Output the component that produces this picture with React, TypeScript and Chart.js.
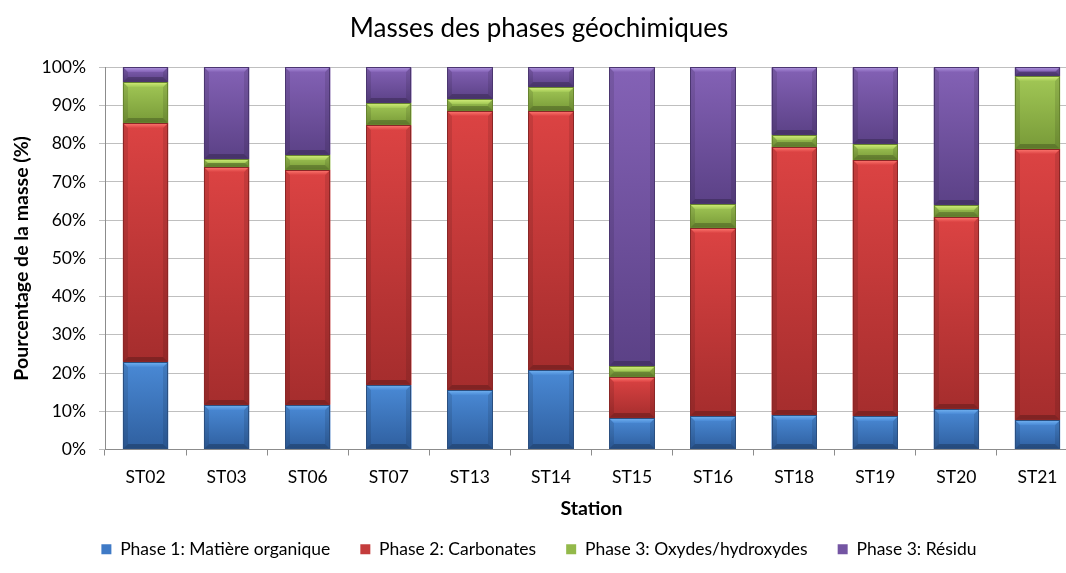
import React, { useEffect, useRef } from 'react';
import { Chart, registerables } from 'chart.js';

Chart.register(...registerables);

const categories = ['ST02', 'ST03', 'ST06', 'ST07', 'ST13', 'ST14', 'ST15', 'ST16', 'ST18', 'ST19', 'ST20', 'ST21'];
const phase1Organique = [23.0, 11.7, 11.7, 16.8, 15.5, 20.7, 8.2, 8.7, 9.1, 8.7, 10.7, 7.8];
const phase2Carbonates = [62.5, 62.2, 61.5, 68.0, 73.0, 67.8, 10.8, 49.2, 70.1, 67.0, 50.1, 70.9];
const phase3Oxydes = [10.5, 2.1, 3.9, 5.9, 3.3, 6.3, 2.9, 6.4, 3.1, 4.2, 3.2, 19.0];
const phase3Residu = [4.0, 24.0, 22.9, 9.3, 8.2, 5.2, 78.1, 35.7, 17.7, 20.1, 36.0, 2.3];
const seriesNames = ['Phase 1: Matière organique', 'Phase 2: Carbonates', 'Phase 3: Oxydes/hydroxydes', 'Phase 3: Résidu'];

const palettes = [
  { mid: '#3f7ac6', light: '#74b4f2', top: '#4a8ad6', bottom: '#2f5f9f', border: '#2b4f80' },
  { mid: '#c43c3c', light: '#ff7a72', top: '#dc4343', bottom: '#a52d2d', border: '#8a2626' },
  { mid: '#93b94a', light: '#d5f07a', top: '#a2c856', bottom: '#789a38', border: '#66832e' },
  { mid: '#7455a3', light: '#b39ae2', top: '#8462b6', bottom: '#5b4186', border: '#4b3670' },
];

const FONT = 'Lato, "Open Sans", sans-serif';

const bevelPlugin = {
  id: 'bevel',
  afterDatasetsDraw(chart: any) {
    const ctx = chart.ctx as CanvasRenderingContext2D;
    chart.data.datasets.forEach((_ds: any, di: number) => {
      const meta = chart.getDatasetMeta(di);
      const pal = palettes[di];
      meta.data.forEach((el: any) => {
        const { x, y, base, width } = el.getProps(['x', 'y', 'base', 'width'], true);
        const l = Math.round(x - width / 2);
        const r = Math.round(x + width / 2);
        const t = Math.round(Math.min(y, base));
        const b = Math.round(Math.max(y, base));
        const h = b - t;
        if (h <= 0) return;
        const w = r - l;
        ctx.save();
        const g = ctx.createLinearGradient(0, t, 0, b);
        g.addColorStop(0, pal.top);
        g.addColorStop(1, pal.bottom);
        ctx.fillStyle = g;
        ctx.fillRect(l, t, w, h);
        const bv = Math.min(5, h / 2);
        ctx.fillStyle = 'rgba(0,0,0,0.10)';
        ctx.beginPath();
        ctx.moveTo(l, t); ctx.lineTo(l + bv, t + bv); ctx.lineTo(l + bv, b - bv); ctx.lineTo(l, b);
        ctx.closePath(); ctx.fill();
        ctx.beginPath();
        ctx.moveTo(r, t); ctx.lineTo(r - bv, t + bv); ctx.lineTo(r - bv, b - bv); ctx.lineTo(r, b);
        ctx.closePath(); ctx.fill();
        ctx.fillStyle = 'rgba(0,0,0,0.22)';
        ctx.beginPath();
        ctx.moveTo(l, b); ctx.lineTo(l + bv, b - bv); ctx.lineTo(r - bv, b - bv); ctx.lineTo(r, b);
        ctx.closePath(); ctx.fill();
        const tg = ctx.createLinearGradient(0, t, 0, t + bv);
        tg.addColorStop(0, pal.light);
        tg.addColorStop(1, pal.top);
        ctx.fillStyle = tg;
        ctx.beginPath();
        ctx.moveTo(l, t); ctx.lineTo(r, t); ctx.lineTo(r - bv, t + bv); ctx.lineTo(l + bv, t + bv);
        ctx.closePath(); ctx.fill();
        ctx.strokeStyle = pal.border;
        ctx.lineWidth = 1;
        ctx.strokeRect(l + 0.5, t + 0.5, w - 1, h - 1);
        ctx.restore();
      });
    });
  },
};

export default function App() {
  const ref = useRef<HTMLCanvasElement>(null);
  useEffect(() => {
    document.body.style.margin = '0';
    const seriesData = [phase1Organique, phase2Carbonates, phase3Oxydes, phase3Residu];
    const chart = new Chart(ref.current as HTMLCanvasElement, {
      type: 'bar',
      data: {
        labels: categories,
        datasets: seriesData.map((d, i) => ({
          label: seriesNames[i],
          data: d,
          backgroundColor: palettes[i].mid,
          borderColor: palettes[i].border,
          borderWidth: 0,
          categoryPercentage: 1,
          barPercentage: 0.56,
        })),
      },
      options: {
        responsive: false,
        animation: false,
        layout: { padding: { left: 0, right: 6, top: 0, bottom: 5 } },
        plugins: {
          title: {
            display: true,
            text: 'Masses des phases géochimiques',
            color: '#000',
            font: { family: FONT, size: 26, weight: 'normal' },
            padding: { top: 13, bottom: 23 },
          },
          legend: {
            position: 'bottom',
            labels: {
              color: '#000',
              font: { family: FONT, size: 17.5 },
              boxWidth: 10,
              boxHeight: 10,
              padding: 30,
            },
          },
          tooltip: { enabled: false },
        },
        scales: {
          x: {
            stacked: true,
            grid: { offset: true, drawOnChartArea: false, drawTicks: true, tickLength: 6, color: '#8c8c8c' },
            border: { color: '#8c8c8c' },
            ticks: { color: '#000', font: { family: FONT, size: 17.5 }, padding: 11, maxRotation: 0 },
            title: {
              display: true,
              text: 'Station',
              color: '#000',
              font: { family: FONT, size: 19.5, weight: 'bold' },
              padding: { top: 0, bottom: -10 },
            },
            afterFit: (scale: any) => { scale.height = 61; },
          },
          y: {
            stacked: true,
            min: 0,
            max: 100,
            grid: { color: '#bfbfbf', tickLength: 6 },
            border: { color: '#8c8c8c' },
            ticks: {
              stepSize: 10,
              color: '#000',
              font: { family: FONT, size: 17.5 },
              padding: 13,
              callback: (v: any) => v + '%',
            },
            title: {
              display: true,
              text: 'Pourcentage de la masse (%)',
              color: '#000',
              font: { family: FONT, size: 19.5, weight: 'bold' },
              padding: { top: 10, bottom: 10 },
            },
            afterFit: (scale: any) => { scale.width = 105; },
          },
        },
      },
      plugins: [bevelPlugin],
    } as any);
    return () => chart.destroy();
  }, []);
  return (
    <div style={{ width: 1066, height: 573, overflow: 'hidden', background: '#fff' }}>
      <canvas ref={ref} width={1084} height={573} style={{ display: 'block' }} />
    </div>
  );
}
